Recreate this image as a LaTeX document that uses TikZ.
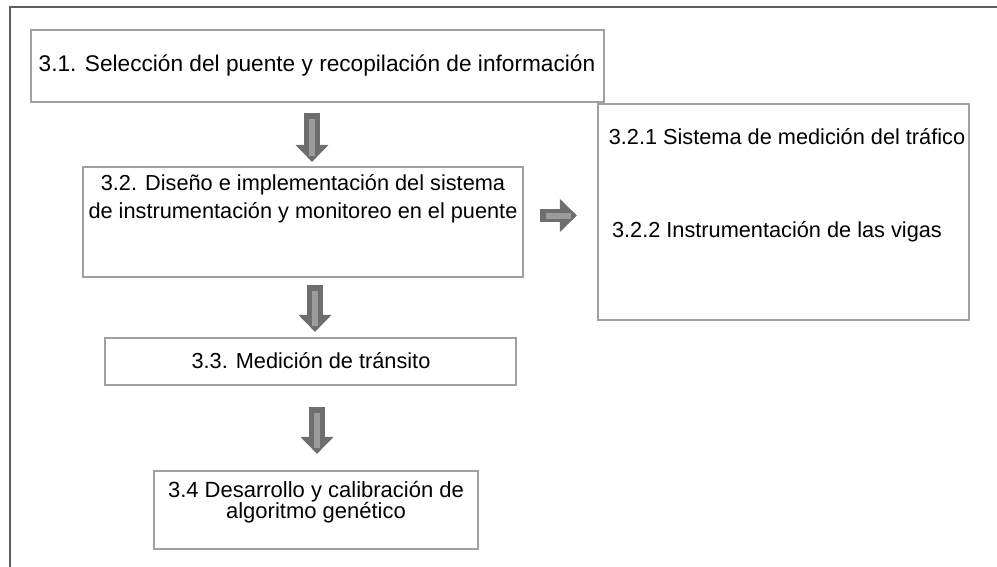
\documentclass[tikz,border=0pt]{standalone}
\usepackage{fontspec}
\setmainfont{Liberation Sans}
\usetikzlibrary{arrows.meta}
\definecolor{boxgray}{HTML}{A0A0A0}
\definecolor{framegray}{HTML}{5F5F5F}
\definecolor{arrowdark}{HTML}{6E6E6E}
\definecolor{arrowlight}{HTML}{9C9C9C}
\begin{document}
\begin{tikzpicture}[x=0.75pt,y=-0.75pt,
    box/.style={draw=boxgray,line width=1.6pt,rectangle,inner sep=0pt},
    txt/.style={inner sep=0pt,align=center,font=\fontsize{16.3}{21}\selectfont},
    blk/.style={draw=arrowdark,line width=12pt,-{Triangle[width=24pt,length=12.75pt]}},
    blkin/.style={draw=arrowlight,line width=4.5pt}]
  \useasboundingbox (0,0) rectangle (997,567);
  \draw[framegray,line width=1.4pt] (10,567) -- (10,7) -- (997,7);
  % boxes
  \node[box,minimum width=429.75pt,minimum height=54pt] (b1) at (317.5,66) {};
  \node[box,minimum width=330pt,minimum height=82.5pt] (b2) at (303,222) {};
  \node[box,minimum width=278.25pt,minimum height=162pt] (b5) at (783.5,212) {};
  \node[box,minimum width=308.25pt,minimum height=35.25pt] (b3) at (310.5,361.5) {};
  \node[box,minimum width=243pt,minimum height=58.5pt] (b4) at (316,510) {};
  % texts
  \node[txt,font=\fontsize{17}{20}\selectfont] (t1) at (317,66) {3.1. Selección del puente y recopilación de información};
  \node[txt] (t2) at (303,199) {3.2. Diseño e implementación del sistema\\de instrumentación y monitoreo en el puente};
  \node[txt] (t51) at (787,137) {3.2.1 Sistema de medición del tráfico};
  \node[txt] (t52) at (777,232) {3.2.2 Instrumentación de las vigas};
  \node[txt] (t3) at (311,361) {3.3. Medición de tránsito};
  \node[txt,font=\fontsize{16.5}{16}\selectfont] (t4) at (316,502) {3.4 Desarrollo y calibración de\\algoritmo genético};
  % arrows
  \begin{scope}
    \draw[blk,shorten <=7.5pt,shorten >=3pt] (b1.south -| 312,0) -- (b2.north -| 312,0);
    \draw[blkin,shorten <=12pt,shorten >=7.5pt] (b1.south -| 312,0) -- (b2.north -| 312,0);
    \draw[blk,shorten <=5.25pt,shorten >=3.75pt] (b2.south -| 315,0) -- (b3.north -| 315,0);
    \draw[blkin,shorten <=9.75pt,shorten >=8.25pt] (b2.south -| 315,0) -- (b3.north -| 315,0);
    \draw[blk,shorten <=15.75pt,shorten >=12pt] (b3.south -| 317,0) -- (b4.north -| 317,0);
    \draw[blkin,shorten <=20.25pt,shorten >=16.5pt] (b3.south -| 317,0) -- (b4.north -| 317,0);
    \draw[blk,line width=10pt,shorten <=12pt,shorten >=15pt] (b2.east |- 0,215.5) -- (b5.west |- 0,215.5);
    \draw[blkin,shorten <=16.5pt,shorten >=19.5pt] (b2.east |- 0,215.5) -- (b5.west |- 0,215.5);
  \end{scope}
\end{tikzpicture}
\end{document}
